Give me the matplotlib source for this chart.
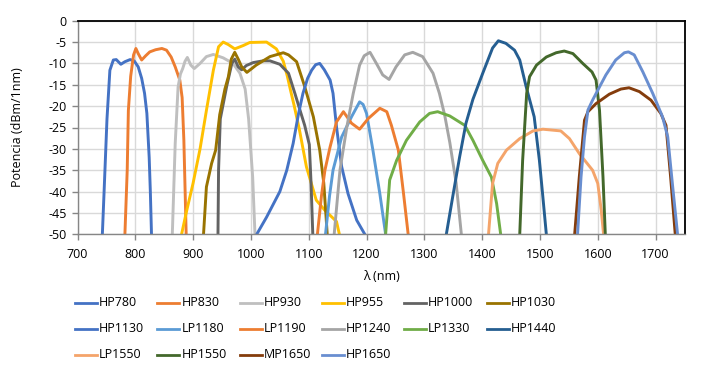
import matplotlib
matplotlib.use("Agg")
import matplotlib.pyplot as plt
from matplotlib.lines import Line2D

plt.rcParams['font.family'] = ['Open Sans', 'DejaVu Sans']
plt.rcParams['axes.unicode_minus'] = False

# ---- data ----
names = ["HP780", "HP830", "HP930", "HP955", "HP1000", "HP1030",
         "HP1130", "LP1180", "LP1190", "HP1240", "LP1330", "HP1440",
         "LP1550", "HP1550", "MP1650", "HP1650"]

colors = ["#4472C4", "#ED7D31", "#BFBFBF", "#FFC000", "#636363", "#997300",
          "#4472C4", "#5B9BD5", "#ED7D31", "#A5A5A5", "#70AD47", "#255E91",
          "#F4A46A", "#43682B", "#843C0C", "#698ED0"]

hp780_x = [743, 746, 751, 756, 762, 767, 775, 782, 791, 798, 805, 811, 816, 820, 824, 826, 828]
hp780_y = [-50, -40, -23, -11.6, -9.2, -9.1, -10.2, -9.6, -9.1, -9.4, -10.8, -13.5, -17, -21.7, -32, -40, -50]

hp830_x = [782, 786, 788, 792, 797, 801, 805, 811, 818, 825, 835, 846, 854, 862, 869, 877, 881, 884, 888]
hp830_y = [-50, -35, -21, -13, -8, -6.5, -7.7, -9.2, -8.2, -7.3, -6.8, -6.5, -6.9, -8.5, -10.8, -13.9, -18, -28, -50]

hp930_x = [864, 869, 874, 878, 882, 886, 890, 896, 902, 912, 923, 935, 952, 969, 981, 990, 996, 1003, 1007]
hp930_y = [-50, -28.8, -15.5, -12.5, -11.2, -9.5, -8.6, -10.4, -11.2, -10, -8.4, -7.9, -8.7, -10, -12.3, -16, -23, -36.6, -50]

hp955_x = [880, 889, 900, 912, 923, 935, 944, 952, 961, 972, 987, 998, 1027, 1044, 1056, 1063, 1068, 1075, 1084, 1096, 1113, 1128, 1148, 1153]
hp955_y = [-50, -44.4, -38, -30, -21, -11.6, -6.1, -5.0, -5.6, -6.6, -5.8, -5.1, -5.0, -6.6, -9.5, -13, -16, -20, -25.6, -34.2, -42, -44.4, -47, -50]

hp1000_x = [943, 944, 947, 958, 967, 972, 978, 984, 992, 1004, 1021, 1033, 1050, 1065, 1076, 1085, 1093, 1101, 1104, 1107]
hp1000_y = [-50, -35, -23, -15.4, -10, -9.0, -10.8, -11.5, -10.5, -9.8, -9.4, -9.4, -10.2, -12.3, -17, -21, -24.5, -29, -38, -50]

hp1030_x = [918, 923, 932, 939, 946, 955, 961, 966, 972, 978, 984, 993, 1009, 1033, 1056, 1065, 1079, 1093, 1108, 1119, 1126, 1132]
hp1030_y = [-50, -38.9, -33.4, -30.3, -22, -16, -13.1, -9, -7.4, -9.0, -10.8, -12.1, -10.4, -8.4, -7.5, -8.0, -9.6, -15.4, -22.5, -30.3, -38, -50]

hp1130_x = [1010, 1027, 1050, 1062, 1073, 1082, 1090, 1098, 1105, 1112, 1119, 1127, 1137, 1142, 1148, 1157, 1168, 1183, 1197]
hp1130_y = [-50, -46, -40, -35, -28.75, -22, -17, -13.5, -11.6, -10.3, -10, -11.5, -13.9, -17, -24.8, -34.2, -40.5, -46.7, -50]

lp1180_x = [1129, 1136, 1142, 1157, 1174, 1188, 1194, 1200, 1211, 1223, 1233]
lp1180_y = [-50, -41, -35, -27.2, -22.5, -19, -19.6, -21.7, -30.3, -40.5, -50]

lp1190_x = [1115, 1122, 1128, 1137, 1148, 1160, 1174, 1188, 1203, 1223, 1235, 1243, 1255, 1264, 1272]
lp1190_y = [-50, -41, -35, -29.5, -23.7, -21.3, -24, -25.4, -22.9, -20.5, -21.3, -24.5, -30.3, -40.5, -50]

hp1240_x = [1144, 1154, 1166, 1177, 1188, 1196, 1206, 1217, 1228, 1239, 1251, 1266, 1280, 1297, 1315, 1326, 1335, 1344, 1355, 1364]
hp1240_y = [-50, -35, -24.8, -17, -10.4, -8.2, -7.4, -10, -12.7, -13.75, -10.8, -8, -7.4, -8.4, -12.3, -17, -22, -28.5, -38, -50]

lp1330_x = [1233, 1240, 1252, 1269, 1292, 1309, 1323, 1344, 1370, 1384, 1401, 1416, 1425, 1432]
lp1330_y = [-50, -37.3, -32.7, -28, -23.7, -21.7, -21.3, -22.3, -24.5, -28, -32.7, -36.6, -42.8, -50]

hp1440_x = [1338, 1349, 1361, 1372, 1384, 1401, 1418, 1428, 1441, 1456, 1465, 1476, 1490, 1499, 1505, 1511]
hp1440_y = [-50, -41.25, -31.9, -24, -18.4, -12.3, -6.4, -4.7, -5.3, -6.9, -9.2, -15.4, -22.5, -32.7, -41.25, -50]

lp1550_x = [1411, 1418, 1427, 1442, 1465, 1488, 1505, 1536, 1551, 1568, 1591, 1600, 1606, 1610]
lp1550_y = [-50, -38.1, -33.4, -30.3, -27.6, -25.8, -25.4, -25.8, -27.6, -31.1, -35, -38.1, -44.4, -50]

hp1550_x = [1465, 1470, 1477, 1482, 1494, 1511, 1528, 1542, 1557, 1574, 1590, 1597, 1603, 1609, 1613]
hp1550_y = [-50, -32.7, -17, -13.1, -10.4, -8.5, -7.5, -7.1, -7.7, -10, -12, -13.9, -21, -36.6, -50]

mp1650_x = [1560, 1568, 1577, 1583, 1597, 1620, 1640, 1654, 1672, 1692, 1709, 1718, 1726, 1734]
mp1650_y = [-50, -36.6, -23.3, -21.3, -19.4, -17.2, -16, -15.7, -16.6, -18.6, -21.7, -24.5, -36.6, -50]

hp1650_x = [1565, 1571, 1577, 1583, 1591, 1603, 1614, 1631, 1646, 1653, 1663, 1678, 1695, 1712, 1721, 1729, 1738]
hp1650_y = [-50, -36.6, -27.2, -20.9, -18.6, -15.5, -12.7, -9.2, -7.5, -7.3, -8, -12, -17, -22.5, -27.2, -38.1, -50]

series_x = [hp780_x, hp830_x, hp930_x, hp955_x, hp1000_x, hp1030_x,
            hp1130_x, lp1180_x, lp1190_x, hp1240_x, lp1330_x, hp1440_x,
            lp1550_x, hp1550_x, mp1650_x, hp1650_x]
series_y = [hp780_y, hp830_y, hp930_y, hp955_y, hp1000_y, hp1030_y,
            hp1130_y, lp1180_y, lp1190_y, hp1240_y, lp1330_y, hp1440_y,
            lp1550_y, hp1550_y, mp1650_y, hp1650_y]

x_ticks = [700, 800, 900, 1000, 1100, 1200, 1300, 1400, 1500, 1600, 1700]
y_ticks = [0, -5, -10, -15, -20, -25, -30, -35, -40, -45, -50]

# ---- figure ----
W, H = 708, 383
fig = plt.figure(figsize=(W / 100, H / 100), dpi=100)
L, R, T, B = 77.5, 684.5, 20.7, 234.3
ax = fig.add_axes([L / W, 1 - B / H, (R - L) / W, (B - T) / H])

for xs, ys, c in zip(series_x, series_y, colors):
    ax.plot(xs, ys, color=c, lw=2.1, solid_joinstyle='round', solid_capstyle='round')

ax.set_xlim(700, 1750)
ax.set_ylim(-50, 0)
ax.set_xticks(x_ticks)
ax.set_yticks(y_ticks)
ax.set_xticklabels([str(v) for v in x_ticks])
ax.set_yticklabels([str(v) for v in y_ticks])
ax.grid(True, color="#D9D9D9", lw=1.0)
ax.set_axisbelow(True)

for s in ["left", "bottom"]:
    ax.spines[s].set_color("#868686")
    ax.spines[s].set_linewidth(1.0)
for s in ["top", "right"]:
    ax.spines[s].set_color("black")
    ax.spines[s].set_linewidth(1.3)

ax.tick_params(axis='both', colors="#868686", labelcolor="black", labelsize=9,
               length=4, width=1.0, direction='out')
ax.tick_params(axis='x', pad=6)
ax.tick_params(axis='y', pad=4)

fig.text(381 / W, 1 - 277 / H, "λ (nm)", ha='center', va='center', fontsize=9)
fig.text(18 / W, 1 - 127 / H, "Potencia (dBm/1nm)", ha='center', va='center',
         rotation=90, fontsize=9)

# ---- legend (manual grid, 6 columns) ----
col0, pitch = 75, 82.3
rows_y = [303, 329, 355]
for i, (nm, c) in enumerate(zip(names, colors)):
    r, k = divmod(i, 6)
    x0 = col0 + k * pitch
    y0 = 1 - rows_y[r] / H
    fig.add_artist(Line2D([x0 / W, (x0 + 22) / W], [y0, y0], color=c, lw=2.0,
                          transform=fig.transFigure))
    fig.text((x0 + 24) / W, y0, nm, ha='left', va='center', fontsize=9)

fig.savefig("out.png", dpi=100)
